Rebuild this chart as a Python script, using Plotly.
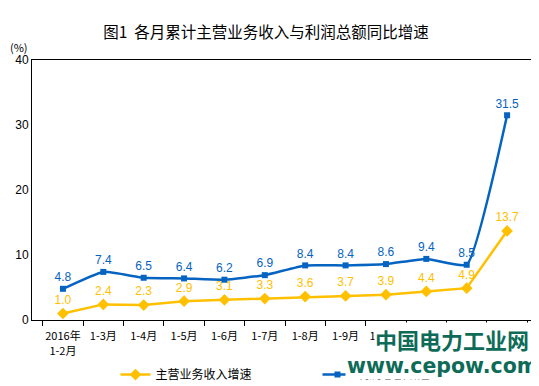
import plotly.graph_objects as go

categories = ["2016年<br>1-2月", "1-3月", "1-4月", "1-5月", "1-6月", "1-7月", "1-8月",
              "1-9月", "1-10月", "1-11月", "1-12月", "2017年<br>1-2月"]
revenue = [1.0, 2.4, 2.3, 2.9, 3.1, 3.3, 3.6, 3.7, 3.9, 4.4, 4.9, 13.7]
profit = [4.8, 7.4, 6.5, 6.4, 6.2, 6.9, 8.4, 8.4, 8.6, 9.4, 8.5, 31.5]
yticks = [0, 10, 20, 30, 40]

BLUE = "#0563C1"
YELLOW = "#FFC000"
CJK = "Noto Sans CJK SC"

# page body has an 8px default margin; size the figure to fill the rest of the window
W, H = 531, 378

fig = go.Figure()
fig.add_trace(go.Scatter(
    x=categories, y=revenue, name="主营业务收入增速", mode="lines+markers+text",
    line=dict(color=YELLOW, width=2.5),
    marker=dict(symbol="diamond", size=9, color=YELLOW),
    text=[f"{v:.1f}" for v in revenue], textposition="top center",
    textfont=dict(color=YELLOW, size=12, family="Liberation Sans"),
))
fig.add_trace(go.Scatter(
    x=categories, y=profit, name="利润总额增速", mode="lines+markers+text",
    line=dict(color=BLUE, width=2.5, shape="spline", smoothing=0.4),
    marker=dict(symbol="square", size=6, color=BLUE),
    text=[f"{v:.1f}" for v in profit], textposition="top center",
    textfont=dict(color=BLUE, size=12, family="Liberation Sans"),
))

fig.update_layout(
    width=W, height=H,
    margin=dict(l=24, r=1, t=52, b=66, autoexpand=False),
    paper_bgcolor="white", plot_bgcolor="white",
    title=dict(text="图1  各月累计主营业务收入与利润总额同比增速", x=258 / W, xanchor="center",
               xref="container", yref="container", y=1 - 25 / H, yanchor="middle",
               font=dict(family=CJK, size=15.5, color="black")),
    font=dict(family=CJK, size=11, color="black"),
    showlegend=True,
    legend=dict(orientation="h", x=0.165, xanchor="left", y=-0.21, yanchor="middle",
                font=dict(family=CJK, size=12, color="black"), itemwidth=30,
                entrywidthmode="pixels", entrywidth=157, bgcolor="rgba(0,0,0,0)"),
    annotations=[
        dict(text="(%)", xref="paper", yref="paper", x=-0.047, y=1.05, xanchor="left",
             yanchor="middle", showarrow=False, font=dict(family=CJK, size=11)),
        dict(text="<b>www.cepow.com</b>", xref="paper", yref="paper", x=1.003, y=-0.175,
             xanchor="right", yanchor="middle", showarrow=False, bgcolor="white",
             borderpad=1,
             font=dict(family="DejaVu Sans", size=20.5, color="#0d6b57")),
        dict(text="<b>中国电力工业网</b>", xref="paper", yref="paper", x=0.985, y=-0.072,
             xanchor="right", yanchor="middle", showarrow=False, bgcolor="white",
             borderpad=0,
             font=dict(family=CJK, size=22, color="#0d6b57")),
    ],
)
fig.update_xaxes(showline=True, linecolor="black", linewidth=1, mirror=True,
                 ticks="outside", tickson="boundaries", ticklen=5, tickcolor="black",
                 showgrid=False, tickangle=0, automargin=False, ticklabelstandoff=6,
                 tickfont=dict(family=CJK, size=11))
fig.update_yaxes(range=[0, 40], tickvals=yticks, showline=True, linecolor="black",
                 linewidth=1, mirror=True, showgrid=False, zeroline=False, automargin=False,
                 tickfont=dict(family="Liberation Sans", size=12), ticks="")

fig.write_html("out.html")
